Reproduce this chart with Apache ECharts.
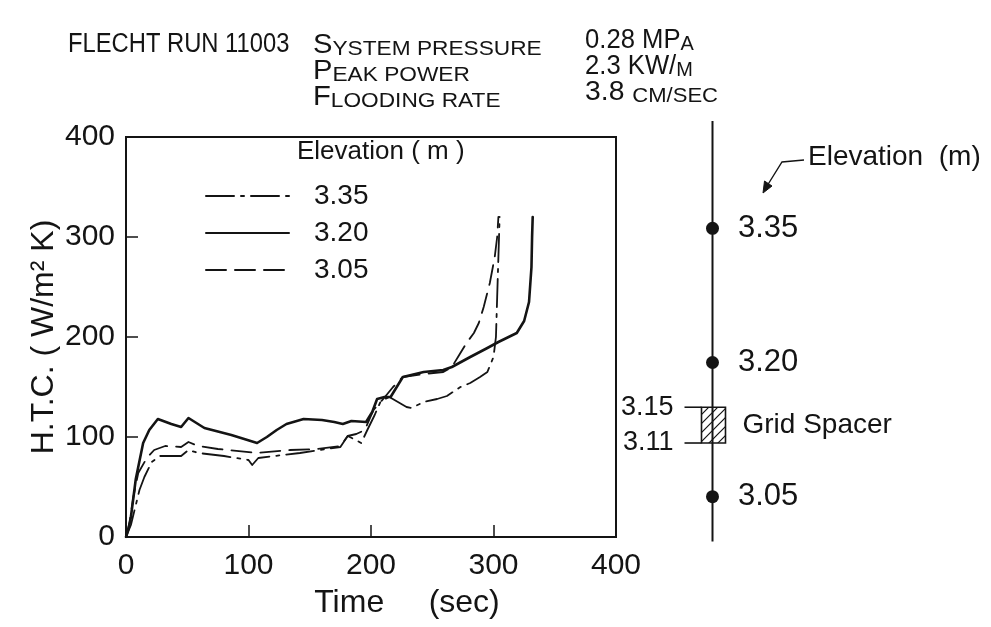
<!DOCTYPE html>
<html>
<head>
<meta charset="utf-8">
<script src="https://cdn.jsdelivr.net/npm/echarts@6/dist/echarts.min.js"></script>
<style>
  html, body { margin: 0; padding: 0; background: #ffffff; }
  #chart { width: 991px; height: 627px; }
</style>
</head>
<body>
<div id="chart"></div>
<script>
// ---- data ----------------------------------------------------------------
const timeTicks = [0, 100, 200, 300, 400];
const htcTicks = [0, 100, 200, 300, 400];
const elevationNames = ['3.35', '3.20', '3.05'];

// heat transfer coefficient (W/m2 K) vs time (sec) at each elevation
const htc335 = [
  [0, 0], [4, 12], [8, 32], [11, 47], [15, 60], [21, 75], [28, 81], [45, 81],
  [51, 87], [59, 84], [80, 81], [100, 77], [103, 72], [108, 79], [142, 84],
  [175, 90], [181, 101], [186, 98], [192, 94], [197, 107], [203, 122],
  [208, 136], [215, 140], [222, 135], [229, 130], [233, 129], [243, 135],
  [254, 138], [262, 141], [273, 150], [281, 154], [289, 160], [295, 165],
  [300, 180], [302, 200], [303, 240], [304, 280], [305, 320]
];
const htc320 = [
  [0, 0], [2, 8], [4, 20], [8, 58], [14, 94], [19, 107], [26, 118], [37, 113],
  [45, 110], [51, 119], [64, 109], [86, 102], [107, 94], [115, 100], [123, 107],
  [131, 113], [145, 118], [160, 117], [170, 115], [177, 113], [184, 116],
  [196, 115], [201, 125], [205, 138], [211, 140], [216, 140], [222, 152],
  [226, 160], [243, 165], [259, 167], [266, 170], [281, 180], [295, 189],
  [304, 195], [319, 204], [325, 216], [329, 235], [331, 270], [331.5, 300],
  [332, 320]
];
const htc305 = [
  [0, 0], [3, 15], [6, 40], [10, 64], [17, 79], [23, 87], [32, 91], [45, 90],
  [51, 95], [59, 91], [75, 88], [107, 84], [134, 87], [156, 88], [175, 91],
  [181, 101], [188, 103], [195, 107], [202, 127], [210, 138], [218, 150],
  [226, 160], [243, 163], [259, 165], [266, 170], [272, 182], [278, 194],
  [284, 204], [288, 214], [292, 230], [297, 254], [301, 280], [303, 300],
  [304, 320]
];

// test section schematic (m)
const thermocoupleElevations = [3.35, 3.20, 3.05];
const gridSpacer = [3.11, 3.15];
const sectionRange = [3.0, 3.47];

// ---- helpers ---------------------------------------------------------------
const INK = '#141414';
const SANS = "'Liberation Sans', Arial, sans-serif";

function hatchPattern() {
  const c = document.createElement('canvas');
  c.width = 9; c.height = 9;
  const g = c.getContext('2d');
  g.strokeStyle = INK;
  g.lineWidth = 1.2;
  g.beginPath();
  g.moveTo(0, 9); g.lineTo(9, 0);
  g.moveTo(-2, 2); g.lineTo(2, -2);
  g.moveTo(7, 11); g.lineTo(11, 7);
  g.stroke();
  return { image: c, repeat: 'repeat' };
}
const hatch = hatchPattern();

function smallCaps(parts) {
  // parts: array of [text, isFullCap]
  return parts.map(p => '{' + (p[1] ? 'b' : 's') + '|' + p[0] + '}').join('');
}
const headRich = {
  b: { fontSize: 27, fontFamily: SANS, color: INK, verticalAlign: 'bottom' },
  s: { fontSize: 21, fontFamily: SANS, color: INK, verticalAlign: 'bottom' }
};
function headText(x, y, parts, sx) {
  return {
    type: 'text', x: x, y: y, scaleX: sx,
    style: { text: smallCaps(parts), rich: headRich, verticalAlign: 'middle', fill: INK }
  };
}

// ---- chart -----------------------------------------------------------------
const chart = echarts.init(document.getElementById('chart'), null, { renderer: 'canvas' });

const lineSeries = (name, data, style) => ({
  name: name, type: 'line', data: data, xAxisIndex: 0, yAxisIndex: 0,
  symbol: 'none', smooth: false, silent: true, animation: false,
  color: INK,
  itemStyle: { color: INK },
  lineStyle: Object.assign({ color: INK, cap: 'round', join: 'round' }, style)
});

chart.setOption({
  animation: false,
  backgroundColor: '#ffffff',
  color: [INK],
  grid: [
    { left: 126, right: 375, top: 137, bottom: 90, show: true,
      borderColor: INK, borderWidth: 2, backgroundColor: 'transparent' },
    { left: 662.5, width: 100, top: 121, bottom: 85.6 }
  ],
  xAxis: [
    {
      gridIndex: 0, type: 'value', min: timeTicks[0], max: timeTicks[timeTicks.length - 1],
      interval: timeTicks[1] - timeTicks[0],
      axisLine: { show: true, lineStyle: { color: INK, width: 2 } },
      axisTick: { show: true, inside: true, length: 12, lineStyle: { color: INK, width: 1.5 } },
      splitLine: { show: false },
      axisLabel: { fontSize: 30, fontFamily: SANS, color: INK, margin: 14 },
      name: 'Time     (sec)', nameLocation: 'middle', nameGap: 50,
      nameTextStyle: { fontSize: 32, fontFamily: SANS, color: INK, padding: [0, 0, 0, 72] }
    },
    { gridIndex: 1, type: 'value', min: -1, max: 1, show: false }
  ],
  yAxis: [
    {
      gridIndex: 0, type: 'value', min: htcTicks[0], max: htcTicks[htcTicks.length - 1],
      interval: htcTicks[1] - htcTicks[0],
      axisLine: { show: true, lineStyle: { color: INK, width: 2 } },
      axisTick: { show: true, inside: true, length: 12, lineStyle: { color: INK, width: 1.5 } },
      splitLine: { show: false },
      axisLabel: { fontSize: 30, fontFamily: SANS, color: INK, margin: 11 },
      name: 'H.T.C. ( W/m² K)', nameLocation: 'middle', nameGap: 66,
      nameTextStyle: { fontSize: 32, fontFamily: SANS, color: INK }
    },
    { gridIndex: 1, type: 'value', min: sectionRange[0], max: sectionRange[1], show: false }
  ],
  legend: {
    data: elevationNames,
    orient: 'vertical', left: 200, top: 176,
    itemWidth: 83, itemHeight: 14, itemGap: 7,
    selectedMode: false,
    itemStyle: { opacity: 0 },
    lineStyle: { color: INK },
    textStyle: { fontSize: 28, fontFamily: SANS, color: INK, lineHeight: 30, padding: [0, 0, 0, 20] }
  },
  series: [
    lineSeries(elevationNames[0], htc335, { width: 1.8, type: [28, 7, 3, 7] }),
    lineSeries(elevationNames[1], htc320, { width: 2.6, type: 'solid' }),
    lineSeries(elevationNames[2], htc305, { width: 1.8, type: [20, 9] }),
    // test section stem
    {
      type: 'line', xAxisIndex: 1, yAxisIndex: 1, silent: true, symbol: 'none',
      data: [[0, sectionRange[0]], [0, sectionRange[1]]],
      lineStyle: { color: INK, width: 2 }
    },
    // thermocouple locations
    {
      type: 'scatter', xAxisIndex: 1, yAxisIndex: 1, silent: true,
      data: thermocoupleElevations.map(e => [0, e]),
      symbol: 'circle', symbolSize: 13,
      itemStyle: { color: INK, opacity: 1 },
      label: {
        show: true, position: 'right', distance: 19,
        fontSize: 31, fontFamily: SANS, color: INK, opacity: 1,
        formatter: p => p.value[1].toFixed(2)
      }
    },
    // grid spacer
    {
      type: 'custom', xAxisIndex: 1, yAxisIndex: 1, silent: true,
      data: [[0, gridSpacer[0], gridSpacer[1]]],
      renderItem: (params, api) => {
        const lo = api.value(1), hi = api.value(2);
        const pTop = api.coord([api.value(0), hi]);
        const pBot = api.coord([api.value(0), lo]);
        const x0 = pTop[0] - 11, w = 24;
        const y0 = pTop[1], h = pBot[1] - pTop[1];
        const font = '27px ' + SANS;
        return {
          type: 'group',
          children: [
            { type: 'rect', shape: { x: x0, y: y0, width: w, height: h },
              style: { fill: hatch, stroke: INK, lineWidth: 1.6 } },
            { type: 'line', shape: { x1: x0 - 17, y1: y0, x2: x0, y2: y0 },
              style: { stroke: INK, lineWidth: 1.6 } },
            { type: 'line', shape: { x1: x0 - 17, y1: y0 + h, x2: x0, y2: y0 + h },
              style: { stroke: INK, lineWidth: 1.6 } },
            { type: 'text', style: { text: hi.toFixed(2), x: x0 - 28, y: y0, align: 'right',
              verticalAlign: 'middle', font: font, fill: INK } },
            { type: 'text', style: { text: lo.toFixed(2), x: x0 - 28, y: y0 + h, align: 'right',
              verticalAlign: 'middle', font: font, fill: INK } },
            { type: 'text', style: { text: 'Grid Spacer', x: x0 + w + 17, y: y0 + h / 2,
              verticalAlign: 'middle', font: '28px ' + SANS, fill: INK } }
          ]
        };
      }
    }
  ],
  graphic: [
    headText(68, 45, [['FLECHT RUN 11003', true]], 0.88),
    headText(313, 46, [['S', true], ['YSTEM PRESSURE', false]], 1.08),
    headText(313, 72, [['P', true], ['EAK POWER', false]], 1.08),
    headText(313, 98, [['F', true], ['LOODING RATE', false]], 1.08),
    headText(585, 41, [['0.28 MP', true], ['A', false]], 0.95),
    headText(585, 67, [['2.3 KW/', true], ['M', false]], 0.95),
    headText(585, 93, [['3.8 ', true], ['CM/SEC', false]], 1.05),
    // legend heading inside the plot
    { type: 'text', x: 297, y: 152,
      style: { text: 'Elevation ( m )', font: '26px ' + SANS, fill: INK, verticalAlign: 'middle' } },
    // schematic annotation
    { type: 'text', x: 808, y: 157,
      style: { text: 'Elevation  (m)', font: '28px ' + SANS, fill: INK, verticalAlign: 'middle' } },
    { type: 'polyline', shape: { points: [[804, 160], [782, 162], [767, 186]] },
      style: { stroke: INK, lineWidth: 1.4, fill: null } },
    { type: 'polygon', shape: { points: [[763, 193], [764.5, 181], [772, 186]] },
      style: { fill: INK, stroke: INK, lineWidth: 1 } }
  ]
});
</script>
</body>
</html>
